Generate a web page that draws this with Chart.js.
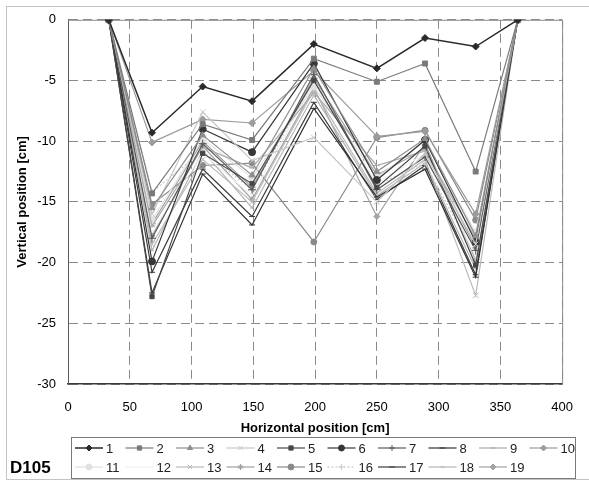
<!DOCTYPE html>
<html>
<head>
<meta charset="utf-8">
<title>D105 profiles</title>
<script src="https://cdn.jsdelivr.net/npm/chart.js@4.4.1/dist/chart.umd.min.js"></script>
<style>
    html, body { margin: 0; padding: 0; background: #fff; }
    #wrap { width: 589px; height: 482px; }
</style>
</head>
<body>
<div id="wrap"><canvas id="profileChart" width="589" height="482"></canvas></div>
<script>
// Horizontal positions of the measuring points [cm]
const positions = [33, 68, 109, 149, 199, 250, 289, 330, 364];

const seriesNames = ['1', '2', '3', '4', '5', '6', '7', '8', '9', '10',
    '11', '12', '13', '14', '15', '16', '17', '18', '19'];

// Vertical positions [cm], one list per measurement
const s1 = [0, -9.3, -5.5, -6.7, -2.0, -4.0, -1.5, -2.2, 0];
const s2 = [0, -14.3, -8.6, -9.9, -3.2, -5.1, -3.6, -12.5, 0];
const s3 = [0, -15.5, -9.5, -12.8, -4.0, -12.5, -9.8, -17.8, 0];
const s4 = [0, -16.0, -7.6, -11.6, -9.7, -15.0, -11.0, -18.5, 0];
const s5 = [0, -22.8, -11.0, -13.5, -5.0, -13.8, -10.4, -20.2, 0];
const s6 = [0, -19.9, -9.0, -10.9, -3.6, -13.2, -9.9, -18.3, 0];
const s7 = [0, -18.0, -10.2, -14.0, -4.5, -14.0, -11.3, -19.0, 0];
const s8 = [0, -22.5, -12.7, -16.9, -7.3, -14.6, -12.3, -21.2, 0];
const s9 = [0, -17.0, -10.5, -12.2, -6.0, -12.0, -10.8, -18.0, 0];
const s10 = [0, -10.1, -8.2, -8.5, -4.2, -9.6, -9.2, -16.0, 0];
const s11 = [0, -16.5, -9.8, -13.0, -5.5, -13.0, -10.0, -17.5, 0];
const s12 = [0, -17.5, -11.0, -14.5, -5.2, -13.5, -11.0, -19.5, 0];
const s13 = [0, -18.5, -11.5, -15.0, -5.8, -14.3, -11.5, -22.7, 0];
const s14 = [0, -16.8, -10.0, -13.8, -4.8, -12.8, -10.6, -18.8, 0];
const s15 = [0, -15.2, -12.0, -11.8, -18.3, -9.7, -9.1, -16.5, 0];
const s16 = [0, -14.2, -10.8, -14.0, -5.0, -13.6, -11.8, -19.6, 0];
const s17 = [0, -20.8, -12.3, -16.2, -6.8, -14.8, -12.0, -21.0, 0];
const s18 = [0, -19.0, -10.8, -15.5, -6.2, -14.5, -11.8, -20.5, 0];
const s19 = [0, -17.8, -10.4, -14.8, -5.6, -16.2, -10.2, -19.8, 0];

const seriesValues = [s1, s2, s3, s4, s5, s6, s7, s8, s9, s10,
    s11, s12, s13, s14, s15, s16, s17, s18, s19];

const xTicks = [0, 50, 100, 150, 200, 250, 300, 350, 400];
const yTicks = [0, -5, -10, -15, -20, -25, -30];

// Look of each series (greyscale print)
const seriesColors = ['#2a2a2a', '#7a7a7a', '#8e8e8e', '#c6c6c6', '#474747', '#363636', '#595959',
    '#333333', '#ababab', '#9c9c9c', '#e2e2e2', '#f0f0f0', '#bababa', '#a0a0a0', '#8a8a8a',
    '#cacaca', '#3d3d3d', '#b4b4b4', '#a4a4a4'];
const seriesMarkers = ['rectRot', 'rect', 'triangle', 'crossRot', 'rect', 'circle', 'cross',
    'line', 'line', 'rectRot', 'circle', false, 'crossRot', 'star', 'circle', 'cross',
    'line', 'line', 'rectRot'];
const markerSizes = [3.5, 3.5, 3.5, 4, 3, 3.5, 4, 3, 3, 3.5, 3.5, 0, 4, 4, 3, 3.5, 3, 2, 3];
const lineDashes = {16: [2, 2]};

const FONT = "'Liberation Sans', Arial, sans-serif";

const datasets = seriesValues.map((values, i) => ({
    label: seriesNames[i],
    data: positions.map((x, j) => ({ x: x, y: values[j] })),
    showLine: true,
    borderColor: seriesColors[i],
    backgroundColor: seriesColors[i],
    borderWidth: i === 0 ? 1.5 : 1.2,
    borderDash: lineDashes[i + 1] || [],
    pointStyle: seriesMarkers[i],
    pointRadius: markerSizes[i],
    pointBorderWidth: 1,
    pointBackgroundColor: seriesColors[i],
    pointBorderColor: seriesColors[i],
    order: i === 0 ? 0 : 1
}));

// Draws one legend marker the same way the points are drawn
function drawMarker(ctx, i, x, y) {
    if (!seriesMarkers[i]) return;
    ctx.fillStyle = seriesColors[i];
    ctx.strokeStyle = seriesColors[i];
    ctx.lineWidth = 1;
    ctx.setLineDash([]);
    Chart.helpers.drawPoint(ctx, {
        pointStyle: seriesMarkers[i],
        radius: Math.min(markerSizes[i], 3),
        rotation: 0,
        borderWidth: 1
    }, x, y);
}

const framePlugin = {
    id: 'frame',
    beforeDraw(chart) {
        const ctx = chart.ctx;
        ctx.save();
        ctx.fillStyle = '#fff';
        ctx.fillRect(0, 0, chart.width, chart.height);
        ctx.strokeStyle = '#c4c4c4';
        ctx.lineWidth = 1;
        ctx.strokeRect(6.5, 6.5, 600, 473);
        ctx.restore();
    },
    beforeDatasetsDraw(chart) {
        // solid top / right edges of the plot area
        const { ctx, chartArea: a } = chart;
        ctx.save();
        ctx.strokeStyle = '#8c8c8c';
        ctx.lineWidth = 1;
        ctx.setLineDash([]);
        ctx.beginPath();
        ctx.moveTo(a.left, a.top + 0.5);
        ctx.lineTo(a.right + 0.5, a.top + 0.5);
        ctx.lineTo(a.right + 0.5, a.bottom);
        ctx.stroke();
        ctx.restore();
    },
    afterDraw(chart) {
        const ctx = chart.ctx;
        const left = 71, top = 437, right = 575, bottom = 478;
        const rowY = [448, 467];
        ctx.save();
        ctx.strokeStyle = '#7a7a7a';
        ctx.lineWidth = 1;
        ctx.strokeRect(left + 0.5, top + 0.5, right - left, bottom - top);

        ctx.font = '13px ' + FONT;
        ctx.textBaseline = 'middle';
        ctx.textAlign = 'left';
        seriesNames.forEach((name, i) => {
            const col = i % 10;
            const row = Math.floor(i / 10);
            const x0 = left + 4 + col * 50.5;
            const y = rowY[row];
            ctx.strokeStyle = seriesColors[i];
            ctx.lineWidth = i === 0 ? 1.5 : 1.2;
            ctx.setLineDash(lineDashes[i + 1] || []);
            ctx.beginPath();
            ctx.moveTo(x0, y);
            ctx.lineTo(x0 + 28, y);
            ctx.stroke();
            drawMarker(ctx, i, x0 + 14, y);
            ctx.fillStyle = '#222';
            ctx.fillText(name, x0 + 31, y + 1);
        });

        ctx.fillStyle = '#000';
        ctx.font = 'bold 17px ' + FONT;
        ctx.fillText('D105', 10, rowY[1] + 1);
        ctx.restore();
    }
};

new Chart(document.getElementById('profileChart'), {
    type: 'scatter',
    data: { datasets: datasets },
    plugins: [framePlugin],
    options: {
        responsive: false,
        animation: false,
        layout: { padding: { left: 6, top: 19, right: 13, bottom: 0 } },
        plugins: {
            legend: { display: false },
            tooltip: { enabled: false }
        },
        scales: {
            x: {
                type: 'linear',
                min: 0,
                max: 400,
                afterFit: (scale) => { scale.height = 98; },
                afterBuildTicks: (scale) => { scale.ticks = xTicks.map(v => ({ value: v })); },
                ticks: {
                    padding: 16,
                    color: '#000',
                    font: { family: FONT, size: 13 }
                },
                grid: { color: '#8a8a8a', lineWidth: 1, drawTicks: false },
                border: { display: true, color: '#3a3a3a', width: 1.5, dash: [9, 5] },
                title: {
                    display: true,
                    text: 'Horizontal position [cm]',
                    color: '#000',
                    font: { family: FONT, size: 13, weight: 'bold' },
                    padding: { top: 0, bottom: 46 }
                }
            },
            y: {
                type: 'linear',
                min: -30,
                max: 0,
                afterFit: (scale) => { scale.width = 62; },
                afterBuildTicks: (scale) => { scale.ticks = yTicks.map(v => ({ value: v })); },
                ticks: {
                    padding: 12,
                    color: '#000',
                    font: { family: FONT, size: 13 }
                },
                grid: { color: '#8a8a8a', lineWidth: 1, drawTicks: false },
                border: { display: true, color: '#5a5a5a', width: 1, dash: [9, 5] },
                title: {
                    display: true,
                    text: 'Vertical position [cm]',
                    color: '#000',
                    font: { family: FONT, size: 13, weight: 'bold' },
                    padding: { top: 9, bottom: 0 }
                }
            }
        }
    }
});
</script>
</body>
</html>
